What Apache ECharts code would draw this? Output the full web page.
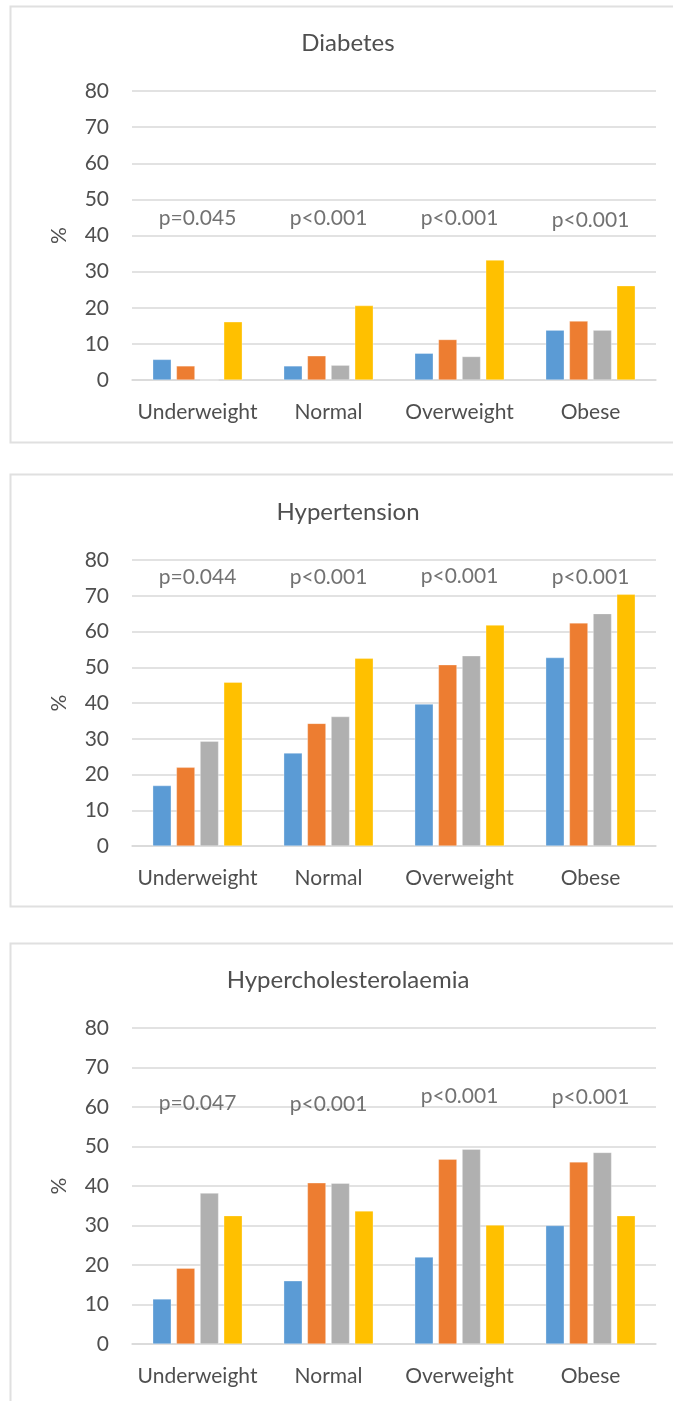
<!DOCTYPE html>
<html><head><meta charset="utf-8">
<script src="https://cdn.jsdelivr.net/npm/echarts@6/dist/echarts.min.js"></script>
<style>html,body{margin:0;padding:0;background:#fff}#c{width:673px;height:1401px}</style>
</head><body><div id="c"></div>
<script>
// ---- data ----
const categories = ['Underweight', 'Normal', 'Overweight', 'Obese'];
const panelTitles = ['Diabetes', 'Hypertension', 'Hypercholesterolaemia'];
const seriesNames = ['Group 1', 'Group 2', 'Group 3', 'Group 4'];
const yMin = 0, yMax = 80, yInterval = 10;

const diabetesS1 = [5.7, 3.9, 7.4, 13.8];
const diabetesS2 = [3.9, 6.7, 11.2, 16.3];
const diabetesS3 = [0, 4.1, 6.5, 13.8];
const diabetesS4 = [16.1, 20.6, 33.2, 26.1];
const diabetesP = ['p=0.045', 'p<0.001', 'p<0.001', 'p<0.001'];

const hypertensionS1 = [16.9, 26.0, 39.7, 52.7];
const hypertensionS2 = [22.0, 34.3, 50.7, 62.4];
const hypertensionS3 = [29.3, 36.2, 53.2, 65.0];
const hypertensionS4 = [45.8, 52.5, 61.8, 70.4];
const hypertensionP = ['p=0.044', 'p<0.001', 'p<0.001', 'p<0.001'];

const cholS1 = [11.4, 16.0, 22.0, 30.0];
const cholS2 = [19.2, 40.8, 46.8, 46.1];
const cholS3 = [38.2, 40.7, 49.3, 48.5];
const cholS4 = [32.5, 33.7, 30.1, 32.5];
const cholP = ['p=0.047', 'p<0.001', 'p<0.001', 'p<0.001'];

// ---- layout / style (not data) ----
const colors = ['#5B9BD5', '#ED7D31', '#B0B0B0', '#FFC000'];
const FONT = 'Lato';
const FS = 21;
const TXT = '#4F4F4F';
const GRIDC = '#D9D9D9';
const panels = [
  { top: 91, height: 289, titleY: 43, box: [10.5, 6.5, 700, 436], pLevel: [44.7, 44.7, 44.7, 44.2],
    series: [diabetesS1, diabetesS2, diabetesS3, diabetesS4], p: diabetesP },
  { top: 560, height: 286, titleY: 512, box: [10.5, 474.5, 700, 432], pLevel: [75.2, 75.2, 75.4, 75.2],
    series: [hypertensionS1, hypertensionS2, hypertensionS3, hypertensionS4], p: hypertensionP },
  { top: 1028, height: 316, titleY: 980, box: [10.5, 943.5, 700, 600], pLevel: [61.0, 60.6, 62.6, 62.4],
    series: [cholS1, cholS2, cholS3, cholS4], p: cholP }
];

const grid = [], xAxis = [], yAxis = [], series = [], graphic = [];
panels.forEach((pn, i) => {
  grid.push({ left: 132, right: 17, top: pn.top, height: pn.height, containLabel: false });
  xAxis.push({
    type: 'category', data: categories, gridIndex: i,
    axisLine: { show: true, lineStyle: { color: GRIDC, width: 1.5 } },
    axisTick: { show: false },
    axisLabel: { color: TXT, fontFamily: FONT, fontSize: FS, margin: 22, interval: 0 }
  });
  yAxis.push({
    type: 'value', gridIndex: i, min: yMin, max: yMax, interval: yInterval,
    name: '%', nameLocation: 'middle', nameRotate: 90, nameGap: 62,
    nameTextStyle: { color: TXT, fontFamily: FONT, fontSize: FS },
    axisLine: { show: false }, axisTick: { show: false },
    axisLabel: { color: TXT, fontFamily: FONT, fontSize: FS, margin: 23 },
    splitLine: { lineStyle: { color: GRIDC, width: 1.5 } }
  });
  pn.series.forEach((vals, k) => {
    series.push({
      type: 'bar', name: seriesNames[k], xAxisIndex: i, yAxisIndex: i,
      data: vals, barWidth: 18.5, barGap: '28%',
      itemStyle: { color: colors[k], borderColor: 'rgba(255,255,255,0.6)', borderWidth: 0.5 },
      silent: true, animation: false
    });
  });
  series.push({
    type: 'scatter', xAxisIndex: i, yAxisIndex: i, symbolSize: 0, silent: true, animation: false,
    data: categories.map((c, j) => ({ value: [c, pn.pLevel[j]], name: pn.p[j] })),
    label: { show: true, position: 'inside', formatter: (d) => d.name,
      color: TXT, fontFamily: FONT, fontSize: FS }
  });
  graphic.push({ type: 'rect', silent: true, z: -10,
    shape: { x: pn.box[0], y: pn.box[1], width: pn.box[2], height: pn.box[3] },
    style: { fill: 'none', stroke: '#E0E0E0', lineWidth: 2 } });
  graphic.push({ type: 'text', silent: true, x: 348, y: pn.titleY,
    style: { text: panelTitles[i], fill: TXT, font: '24px "' + FONT + '"', textAlign: 'center', textVerticalAlign: 'middle' } });
});

const chart = echarts.init(document.getElementById('c'), null, { renderer: 'canvas' });
chart.setOption({ animation: false, grid, xAxis, yAxis, series, graphic });
</script></body></html>
